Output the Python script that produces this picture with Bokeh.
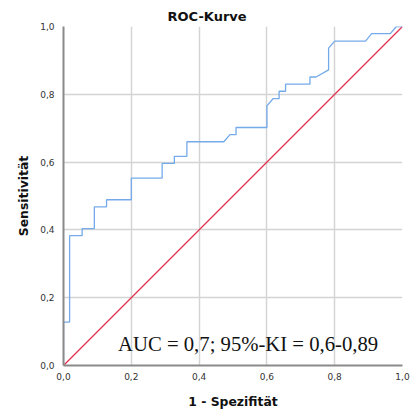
from bokeh.plotting import figure
from bokeh.models import FixedTicker, Label, Range1d
from bokeh.embed import file_html
from bokeh.resources import INLINE

# ROC curve points (1 - specificity, sensitivity)
fpr = [0.0, 0.0, 0.018, 0.018, 0.055, 0.055, 0.091, 0.091, 0.127, 0.127,
       0.2, 0.2, 0.291, 0.291, 0.327, 0.327, 0.364, 0.364, 0.473, 0.491,
       0.509, 0.509, 0.6, 0.6, 0.618, 0.636, 0.636, 0.655, 0.655, 0.727,
       0.727, 0.745, 0.782, 0.782, 0.8, 0.891, 0.909, 0.964, 0.982, 1.0]
tpr = [0.0, 0.128, 0.128, 0.383, 0.383, 0.404, 0.404, 0.468, 0.468, 0.489,
       0.489, 0.553, 0.553, 0.596, 0.596, 0.617, 0.617, 0.660, 0.660, 0.681,
       0.681, 0.702, 0.702, 0.766, 0.787, 0.787, 0.809, 0.809, 0.830, 0.830,
       0.851, 0.851, 0.872, 0.936, 0.957, 0.957, 0.979, 0.979, 1.0, 1.0]
ref_x = [0.0, 1.0]
ref_y = [0.0, 1.0]
ticks = [0.0, 0.2, 0.4, 0.6, 0.8, 1.0]
tick_labels = ["0,0", "0,2", "0,4", "0,6", "0,8", "1,0"]
title_text = "ROC-Kurve"
x_title = "1 - Spezifität"
y_title = "Sensitivität"
auc_text = "AUC = 0,7; 95%-KI = 0,6-0,89"

p = figure(frame_width=339, frame_height=339, output_backend="svg",
           toolbar_location=None,
           x_range=Range1d(0, 1), y_range=Range1d(0, 1),
           min_border_left=63, min_border_right=12, min_border_top=26,
           min_border_bottom=46)
p.outline_line_color = None
p.background_fill_color = "white"
p.border_fill_color = "white"

p.title.text = title_text
p.title.align = "left"
p.title.offset = 104
p.title.standoff = 5
p.title.text_font = "DejaVu Sans"
p.title.text_font_size = "13px"
p.title.text_font_style = "bold"
p.title.text_color = "#111111"

overrides = {t: l for t, l in zip(ticks, tick_labels)}
for ax in (p.xaxis[0], p.yaxis[0]):
    ax.ticker = FixedTicker(ticks=ticks)
    ax.major_label_overrides = overrides
    ax.major_tick_line_color = None
    ax.minor_tick_line_color = None
    ax.axis_line_color = "#8a8a8a"
    ax.axis_line_width = 2
    ax.major_label_text_font = "DejaVu Sans"
    ax.major_label_text_font_size = "9px"
    ax.major_label_text_color = "#333333"
    ax.axis_label_text_font = "DejaVu Sans"
    ax.axis_label_text_font_size = "12.4px"
    ax.axis_label_text_font_style = "bold"
    ax.axis_label_text_color = "#111111"

p.xaxis.axis_label = x_title
p.yaxis.axis_label = y_title
p.xaxis.major_label_standoff = 1
p.yaxis.major_label_standoff = 3
p.xaxis.axis_label_standoff = 11
p.yaxis.axis_label_standoff = 6

p.grid.ticker = FixedTicker(ticks=ticks)
p.grid.grid_line_color = "#d4d4d4"
p.grid.grid_line_width = 1.5

p.line(ref_x, ref_y, line_color="#e6304f", line_width=1.2)
p.line(fpr, tpr, line_color="#74aaea", line_width=1.3)

p.add_layout(Label(x=0.161, y=0.062, text=auc_text, text_font="Liberation Serif",
                   text_font_size="20.7px", text_color="#111111",
                   text_baseline="alphabetic"))

open("out.html", "w").write(file_html(p, INLINE))
